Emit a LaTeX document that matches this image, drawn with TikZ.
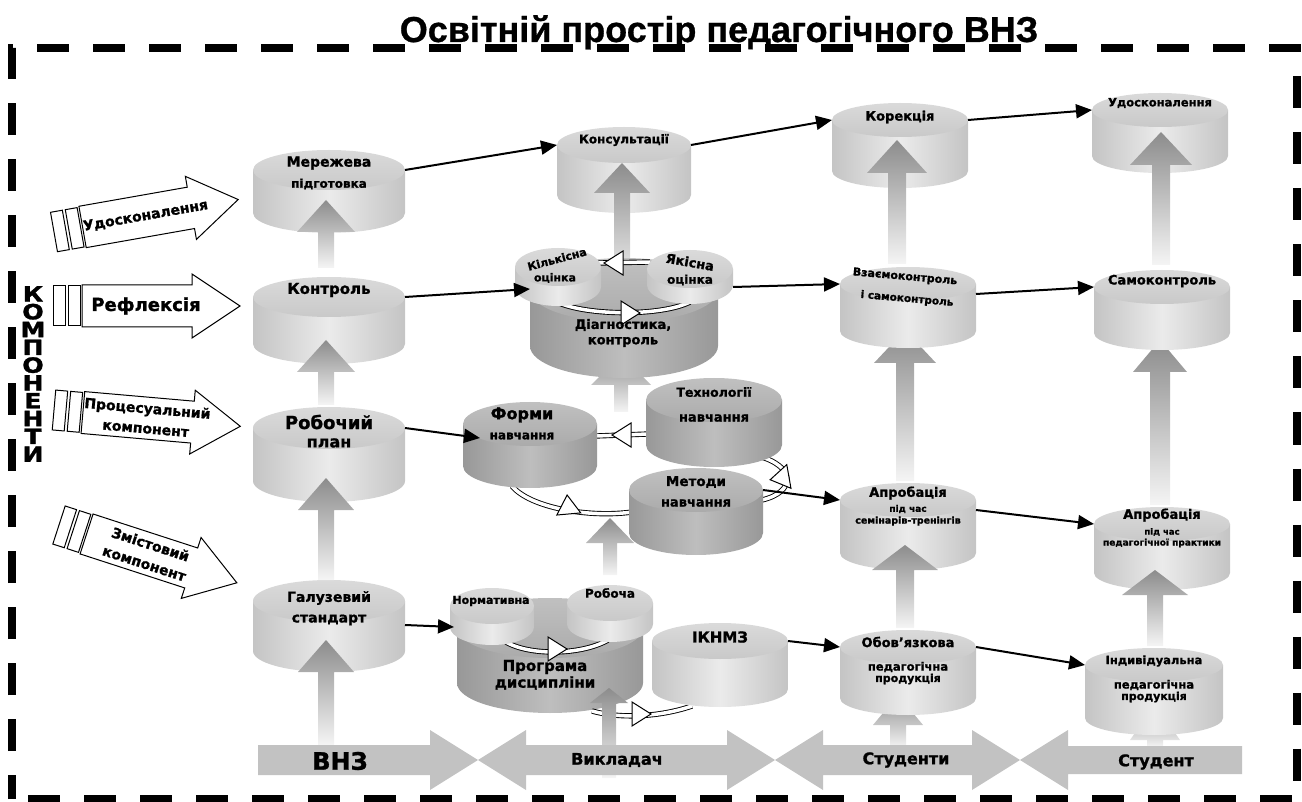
\documentclass[tikz,border=0pt]{standalone}
\usepackage{fontspec}
\setmainfont{DejaVu Sans}[BoldFeatures={FakeBold=1.2}]
\newfontfamily\titlefont{Liberation Sans}[BoldFeatures={FakeBold=0.8}]
\usetikzlibrary{arrows.meta,calc}
\definecolor{bandgray}{HTML}{C2C2C2}
\definecolor{lEdge}{HTML}{C4C4C4}
\definecolor{lMid}{HTML}{EBEBEB}
\definecolor{lTopA}{HTML}{DADADA}
\definecolor{lTopB}{HTML}{C9C9C9}
\definecolor{dEdge}{HTML}{989898}
\definecolor{dMid}{HTML}{BEBEBE}
\definecolor{dTopA}{HTML}{C0C0C0}
\definecolor{dTopB}{HTML}{ABABAB}
\newcommand\qfs[2]{\fontsize{#1}{#2}\selectfont\bfseries}
\tikzset{
  sideL/.style={left color=lEdge,right color=lEdge,middle color=lMid},
  topL/.style={top color=lTopA,bottom color=lTopB},
  sideD/.style={left color=dEdge,right color=dEdge,middle color=dMid},
  topD/.style={top color=dTopA,bottom color=dTopB},
  garr/.style={top color=black!45,bottom color=black!4},
  conn/.style={line width=2pt,-{Triangle[length=16pt,width=14pt]}},
  ring/.style={draw=black,line width=0.9pt,double=white,double distance=3.5pt},
  wtri/.style={draw=black,fill=white,line width=1pt,line join=miter},
  bstripe/.style={draw=black,fill=white,line width=1pt},
  band/.style={fill=bandgray,draw=none},
  ct/.style={inner sep=0pt,font=\qfs{#1}{#1}},
  border/.style={line width=8pt,dash pattern=on 32pt off 24pt,dash phase=8pt},
  ttl/.style={inner sep=0pt,anchor=base,font=\titlefont\qfs{36}{40}},
  komp/.style={inner sep=0pt,align=center,font=\qfs{21}{17.8}}
}
% cylinder: name, cx, ytop, rx, ry, side height, L/D
\newcommand\qcyl[7]{%
  \pgfmathsetmacro\qyc{#3+#5}%
  \pgfmathsetmacro\qyb{#3+#5+#6}%
  \pgfmathsetmacro\qxl{#2-#4}%
  \pgfmathsetmacro\qxr{#2+#4}%
  \pgfmathsetmacro\qkx{0.5523*#4}%
  \pgfmathsetmacro\qky{0.5523*#5}%
  \pgfmathsetmacro\qye{#3+2*#5+#6}%
  \pgfmathsetmacro\qym{(#3+\qye)/2}%
  \pgfmathsetmacro\qht{\qye-#3}%
  \path[side#7] (\qxl,\qyc) -- (\qxl,\qyb) .. controls (\qxl,\qyb+\qky) and (#2-\qkx,\qye) .. (#2,\qye) .. controls (#2+\qkx,\qye) and (\qxr,\qyb+\qky) .. (\qxr,\qyb) -- (\qxr,\qyc) -- cycle;
  \path[top#7] (#2,\qyc) ellipse [x radius=#4, y radius=#5];
  \node[inner sep=0pt,minimum width=#4*2pt,minimum height=\qht*1pt] (#1) at (#2,\qym) {};
  \coordinate (#1-W) at (\qxl,\qyc);
  \coordinate (#1-E) at (\qxr,\qyc);
}
% gray arrow: cx, ytail, ybase, ytip, shaft half, head half
\newcommand\qgarr[6]{\path[garr] (#1-#5,#2) -- (#1-#5,#3) -- (#1-#6,#3) -- (#1,#4) -- (#1+#6,#3) -- (#1+#5,#3) -- (#1+#5,#2) -- cycle;}
% white triangle: x, y, angle
\newcommand\qtri[3]{\begin{scope}[shift={(#1,#2)},rotate=#3]\draw[wtri] (10,0) -- (-9,-12) -- (-9,12) -- cycle;\end{scope}}
% block arrow: name, x, y, angle, font, text
\newcommand\qbarr[6]{%
  \begin{scope}[shift={(#2,#3)},rotate=#4]
    \draw[bstripe] (0,-20) rectangle (12,20);
    \draw[bstripe] (15,-20) rectangle (27,20);
    \draw[bstripe] (29,-21) -- (139,-21) -- (139,-32) -- (187,0) -- (139,32) -- (139,21) -- (29,21) -- cycle;
    \node[transform shape,inner sep=0pt,align=center,font=#5] (#1) at (93,0) {#6};
  \end{scope}}
\begin{document}
\begin{tikzpicture}[x=1pt,y=-1pt]
\useasboundingbox (0,0) rectangle (1302,802);
\draw[border] (11.5,799) -- (11.5,48.5) -- (1297,48.5) -- (1297,799) -- cycle;
\node[ttl] (title) at (719,42) {Освітній простір педагогічного ВНЗ};
\node[komp,xscale=1.2,transform shape] (komp) at (33,374) {К\\О\\М\\П\\О\\Н\\Е\\Н\\Т\\И};
% left block arrows
\qbarr{ba1}{54}{232}{10}{\qfs{14}{20}}{Удосконалення}
\qbarr{ba2}{53}{306}{0}{\qfs{18}{20}}{Рефлексія}
\qbarr{ba3}{54}{410}{-5}{\qfs{14}{20}}{Процесуальний\\компонент}
\qbarr{ba4}{59}{525}{-18}{\qfs{14}{20}}{Змістовий\\компонент}
% gray arrows lying under their target
\qgarr{621}{412}{385}{355}{7}{30}
\qgarr{610}{575}{543}{518}{7}{24}
\qgarr{905}{481}{363}{330}{9}{31}
\qgarr{898}{748}{725}{695}{8}{25}
\qgarr{1160}{505}{372}{340}{10}{27}
\qgarr{1155}{747}{740}{705}{8}{25}
% column 1
\qcyl{A1}{329}{150}{76}{20}{43}{L}
\qcyl{A2}{329}{277}{76}{20}{47}{L}
\qcyl{A3}{329}{407}{76}{21}{53}{L}
\qcyl{A4}{329}{580}{76}{21}{50}{L}
% column 2 top
\qcyl{B1}{624}{127}{67}{18}{50}{L}
\qgarr{622}{290}{193}{163}{8}{28}
\qcyl{B2}{624}{258}{94}{32}{56}{D}
\draw[ring] (650,262) -- (598,263);
\draw[ring] (553,300) .. controls (580,316) and (660,317) .. (690,302);
\qcyl{Kil}{558}{248}{43}{19}{20}{L}
\qcyl{Yak}{690}{250}{43}{19}{16}{L}
\qtri{614}{263}{180}
\qtri{630}{313}{0}
% middle group
\draw[ring] (596,436) -- (648,434);
\draw[ring] (758,456) .. controls (796,466) and (796,492) .. (762,500);
\draw[ring] (632,512) .. controls (590,518) and (530,508) .. (512,486);
\qcyl{F}{530}{402}{67}{22}{42}{D}
\qcyl{T}{714}{378}{68}{22}{45}{D}
\qcyl{M}{696}{468}{67}{22}{43}{D}
\qtri{622}{435}{180}
\qtri{780}{478}{190}
\qtri{568}{505}{95}
% programme group
\qcyl{P}{550}{598}{93}{30}{55}{D}
\draw[ring] (503,640) .. controls (525,656) and (580,656) .. (608,640);
\draw[ring] (592,711) .. controls (620,719) and (660,717) .. (692,706);
\qcyl{N}{492}{588}{42}{18}{21}{L}
\qcyl{R}{610}{585}{43}{18}{21}{L}
\qcyl{I}{720}{623}{68}{18}{48}{L}
\qtri{557}{649}{0}
\qtri{641}{714}{0}
% columns 3 and 4
\qcyl{C1}{900}{103}{68}{17}{51}{L}
\qcyl{C2}{908}{267}{68}{17}{47}{L}
\qcyl{C3}{908}{483}{68}{17}{53}{L}
\qcyl{C4}{908}{630}{68}{17}{51}{L}
\qcyl{D1}{1160}{93}{68}{17}{46}{L}
\qcyl{D2}{1162}{270}{68}{17}{46}{L}
\qcyl{D3}{1162}{507}{68}{17}{49}{L}
\qcyl{D4}{1154}{648}{69}{17}{53}{L}
% gray arrows over their target
\qgarr{326}{268}{232}{200}{8}{29}
\qgarr{326}{405}{372}{340}{8}{29}
\qgarr{326}{580}{510}{478}{8}{28}
\qgarr{326}{745}{672}{640}{8}{28}
\qgarr{609}{778}{703}{688}{7}{19}
\qgarr{897}{264}{173}{140}{9}{30}
\qgarr{905}{628}{570}{545}{9}{33}
\qgarr{1161}{265}{165}{132}{9}{31}
\qgarr{1155}{646}{595}{570}{8}{33}
% bottom band
\path[band] (258,745) -- (430,745) -- (430,730) -- (478,760) -- (430,790) -- (430,775) -- (258,775) -- cycle;
\path[band] (478,760) -- (526,730) -- (526,745) -- (727,745) -- (727,730) -- (775,760) -- (727,790) -- (727,775) -- (526,775) -- (526,790) -- cycle;
\path[band] (775,760) -- (823,730) -- (823,745) -- (972,745) -- (972,730) -- (1020,760) -- (972,790) -- (972,775) -- (823,775) -- (823,790) -- cycle;
\path[band] (1020,760) -- (1068,730) -- (1068,746) -- (1242,746) -- (1242,774) -- (1068,774) -- (1068,790) -- cycle;
\node[ct=24] (tVNZ) at (340,761) {ВНЗ};
\node[ct=16] (tVyk) at (617,760) {Викладач};
\node[ct=16] (tSts) at (906,760) {Студенти};
\node[ct=16] (tSt) at (1156,762) {Студент};
% texts on cylinders
\node[ct=14] (A1a) at (329,163) {Мережева};
\node[ct=12] (A1b) at (329,184) {підготовка};
\node[ct=15] (A2a) at (329,290) {Контроль};
\node[ct=18] (A3a) at (329,422) {Робочий};
\node[ct=16] (A3b) at (329,443) {план};
\node[ct=14] (A4a) at (329,598) {Галузевий};
\node[ct=14] (A4b) at (329,620) {стандарт};
\node[ct=12] (B1a) at (624,140) {Консультації};
\node[ct=13] (B2a) at (623,325) {Діагностика,};
\node[ct=13] (B2b) at (623,342) {контроль};
\node[ct=11,rotate=15] (Kila) at (557,259) {Кількісна};
\node[ct=11] (Kilb) at (555,278) {оцінка};
\node[ct=13,rotate=-10] (Yaka) at (690,262) {Якісна};
\node[ct=12] (Yakb) at (690,280) {оцінка};
\node[ct=13] (C1a) at (900,117) {Корекція};
\node[ct=11,rotate=-5] (C2a) at (905,277) {Взаємоконтроль};
\node[ct=10.5,rotate=-5] (C2b) at (907,299) {і самоконтроль};
\node[ct=13] (C3a) at (908,493) {Апробація};
\node[ct=9] (C3b) at (908,509) {під час};
\node[ct=9.5] (C3c) at (908,521) {семінарів-тренінгів};
\node[ct=13] (C4a) at (908,642) {Обов\symbol{39}язкова};
\node[ct=11.5] (C4b) at (908,667) {педагогічна};
\node[ct=11] (C4c) at (908,679) {продукція};
\node[ct=11.5] (D1a) at (1160,103) {Удосконалення};
\node[ct=13] (D2a) at (1162,281) {Самоконтроль};
\node[ct=13] (D3a) at (1162,515) {Апробація};
\node[ct=8.5] (D3b) at (1162,532) {під час};
\node[ct=9] (D3c) at (1162,543) {педагогічної практики};
\node[ct=11.5] (D4a) at (1154,661) {Індивідуальна};
\node[ct=11.5] (D4b) at (1154,685) {педагогічна};
\node[ct=11] (D4c) at (1154,697) {продукція};
\node[ct=16] (Fa) at (522,415) {Форми};
\node[ct=12] (Fb) at (522,436) {навчання};
\node[ct=12.5] (Ta) at (714,392) {Технології};
\node[ct=13] (Tb) at (714,418) {навчання};
\node[ct=13.5] (Ma) at (696,482) {Методи};
\node[ct=13] (Mb) at (696,503) {навчання};
\node[ct=15] (Pa) at (545,667) {Програма};
\node[ct=15] (Pb) at (545,683) {дисципліни};
\node[ct=11] (Na) at (491,601) {Нормативна};
\node[ct=12] (Ra) at (610,593) {Робоча};
\node[ct=15] (Ia) at (720,637) {ІКНМЗ};
% black connectors
\draw[conn] (A1-E) -- (B1-W);
\draw[conn] (B1-E) -- (C1-W);
\draw[conn] (C1-E) -- (D1-W);
\draw[conn] (A2-E) -- ($(Kil-W)+(15,22)$);
\draw[conn] ($(Yak-E)+(0,18)$) -- (C2-W);
\draw[conn] ($(C2-E)+(0,10)$) -- (D2-W);
\draw[conn] (A3-E) -- ($(F-W)+(17,14)$);
\draw[conn] (M-E) -- (C3-W);
\draw[conn] ($(C3-E)+(0,10)$) -- (D3-W);
\draw[conn] ($(A4-E)+(0,24)$) -- ($(N-W)+(4,21)$);
\draw[conn] (I-E) -- (C4-W);
\draw[conn] (C4-E) -- (D4-W);
\end{tikzpicture}
\end{document}
